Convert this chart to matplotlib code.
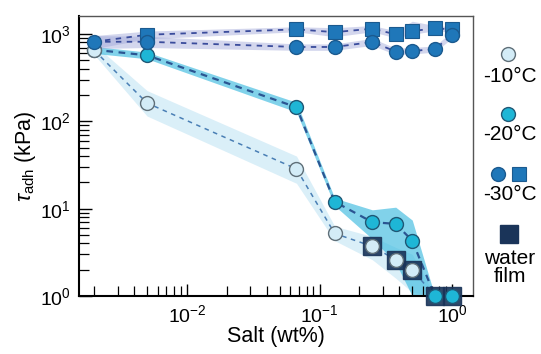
import numpy as np
import matplotlib.pyplot as plt

plt.rcParams['font.family'] = ['Liberation Sans', 'DejaVu Sans']
plt.rcParams['mathtext.fontset'] = 'custom'
plt.rcParams['mathtext.rm'] = 'Liberation Sans'
plt.rcParams['mathtext.it'] = 'Liberation Sans:italic'

# salt concentration (wt%)
salt = [0.002, 0.005, 0.067, 0.13, 0.25, 0.375, 0.5, 0.74, 1.0]

# -10 C
t10 = [650, 162, 28.5, 5.2, 3.7, 2.6, 2.0, 1.0, 1.0]
t10_lo = [580, 115, 19.5, 4.3, 2.6, 1.6, 1.1, 1.0, 1.0]
t10_hi = [760, 225, 40, 6.3, 4.8, 3.6, 3.0, 1.0, 1.0]

# -20 C
t20 = [660, 570, 145, 12, 7.0, 6.7, 4.3, 1.0, 1.0]
t20_lo = [600, 520, 128, 10.8, 4.5, 2.4, 1.0, 1.0, 1.0]
t20_hi = [720, 620, 165, 13.2, 9.7, 10.4, 7.4, 1.0, 1.0]

# -30 C, circles
t30c = [815, 815, 710, 710, 810, 630, 640, 670, 980]
t30c_lo = [680, 700, 650, 650, 740, 580, 590, 620, 900]
t30c_hi = [960, 940, 770, 770, 890, 690, 700, 730, 1070]

# -30 C, squares
t30s = [815, 980, 1130, 1050, 1150, 990, 1080, 1160, 1130]
t30s_lo = [680, 880, 1060, 930, 1060, 900, 990, 1090, 1050]
t30s_hi = [960, 1080, 1210, 1180, 1250, 1090, 1400, 1250, 1210]

# water film points
wf_salt = [0.25, 0.375, 0.5, 0.74, 1.0]
wf_tau = [3.7, 2.6, 2.0, 1.0, 1.0]

c10, e10 = '#d3ecf7', '#5f6f78'
c20, e20 = '#1eb6d6', '#1f5876'
c30, e30 = '#1f77b9', '#1b5a8f'
cwf = '#1a3459'

fig = plt.figure(figsize=(5.41, 3.54), dpi=100)
ax = fig.add_axes([79 / 541, 58 / 354, 394 / 541, 280 / 354])

# shaded bands
ax.fill_between(salt, t10_lo, t10_hi, color='#bde2f3', alpha=0.55, lw=0, zorder=1)
ax.fill_between(salt, t20_lo, t20_hi, color='#3dbbe0', alpha=0.65, lw=0, zorder=1)
ax.fill_between(salt, t30c_lo, t30c_hi, color='#9fa6d8', alpha=0.45, lw=0, zorder=1)
ax.fill_between(salt, t30s_lo, t30s_hi, color='#9fa6d8', alpha=0.45, lw=0, zorder=1)

# dashed lines
ax.plot(salt, t10, ls=(0, (3, 3)), color='#4a7fb5', lw=1.1, zorder=2)
ax.plot(salt, t20, ls=(0, (3, 2.5)), color='#2b5592', lw=1.6, zorder=2)
ax.plot(salt, t30c, ls=(0, (3, 3)), color='#3a4c9c', lw=1.3, zorder=2)
ax.plot(salt, t30s, ls=(0, (3, 3)), color='#3a4c9c', lw=1.3, zorder=2)

# markers
ms = 10
ax.plot(salt[:7], t10[:7], 'o', ms=ms, mfc=c10, mec=e10, mew=1.0, zorder=5, clip_on=False)
ax.plot(salt[:7], t20[:7], 'o', ms=ms, mfc=c20, mec=e20, mew=1.0, zorder=4, clip_on=False)
ax.plot(wf_salt, wf_tau, 's', ms=13.5, mfc=cwf, mec=cwf, alpha=0.9, zorder=4.5, clip_on=False)
ax.plot(salt[7:], t20[7:], 'o', ms=ms, mfc=c20, mec=e20, mew=1.0, zorder=6, clip_on=False)
ax.plot(salt[1:], t30s[1:], 's', ms=9.5, mfc=c30, mec=e30, mew=0.8, zorder=6)
ax.plot(salt, t30c, 'o', ms=ms, mfc=c30, mec=e30, mew=1.0, zorder=6)

ax.set_xscale('log')
ax.set_yscale('log')
ax.set_xlim(10 ** -2.814, 10 ** 0.157)
ax.set_ylim(1, 10 ** 3.206)

ax.tick_params(which='both', direction='in', top=False, right=False, labelsize=14, pad=6)
ax.tick_params(which='major', length=9, width=1.0)
ax.tick_params(which='minor', length=7, width=0.9)
for s in ['left', 'bottom']:
    ax.spines[s].set_linewidth(1.5)
    ax.spines[s].set_color('black')
for s in ['top', 'right']:
    ax.spines[s].set_linewidth(1.0)
    ax.spines[s].set_color('#555555')

ax.set_xlabel('Salt (wt%)', fontsize=15.5, labelpad=0)
ax.set_ylabel(r'$\tau_{\mathrm{adh}}$ (kPa)', fontsize=15.5, labelpad=1)

# legend column on the right
lax = fig.add_axes([473 / 541, 0, 68 / 541, 1])
lax.set_xlim(473, 541)
lax.set_ylim(354, 0)
lax.axis('off')
lax.plot([508], [54], 'o', ms=ms, mfc=c10, mec=e10, mew=1.0)
lax.text(510, 77, '-10°C', fontsize=15, ha='center', va='center')
lax.plot([508], [114], 'o', ms=ms, mfc=c20, mec=e20, mew=1.0)
lax.text(510, 134, '-20°C', fontsize=15, ha='center', va='center')
lax.plot([498], [174], 'o', ms=ms, mfc=c30, mec=e30, mew=1.0)
lax.plot([519], [174], 's', ms=9.5, mfc=c30, mec=e30, mew=0.8)
lax.text(510, 195, '-30°C', fontsize=15, ha='center', va='center')
lax.plot([509], [234], 's', ms=13.5, mfc=cwf, mec=cwf)
lax.text(510, 258, 'water', fontsize=15, ha='center', va='center')
lax.text(510, 277, 'film', fontsize=15, ha='center', va='center')

fig.savefig('out.png', dpi=100)
